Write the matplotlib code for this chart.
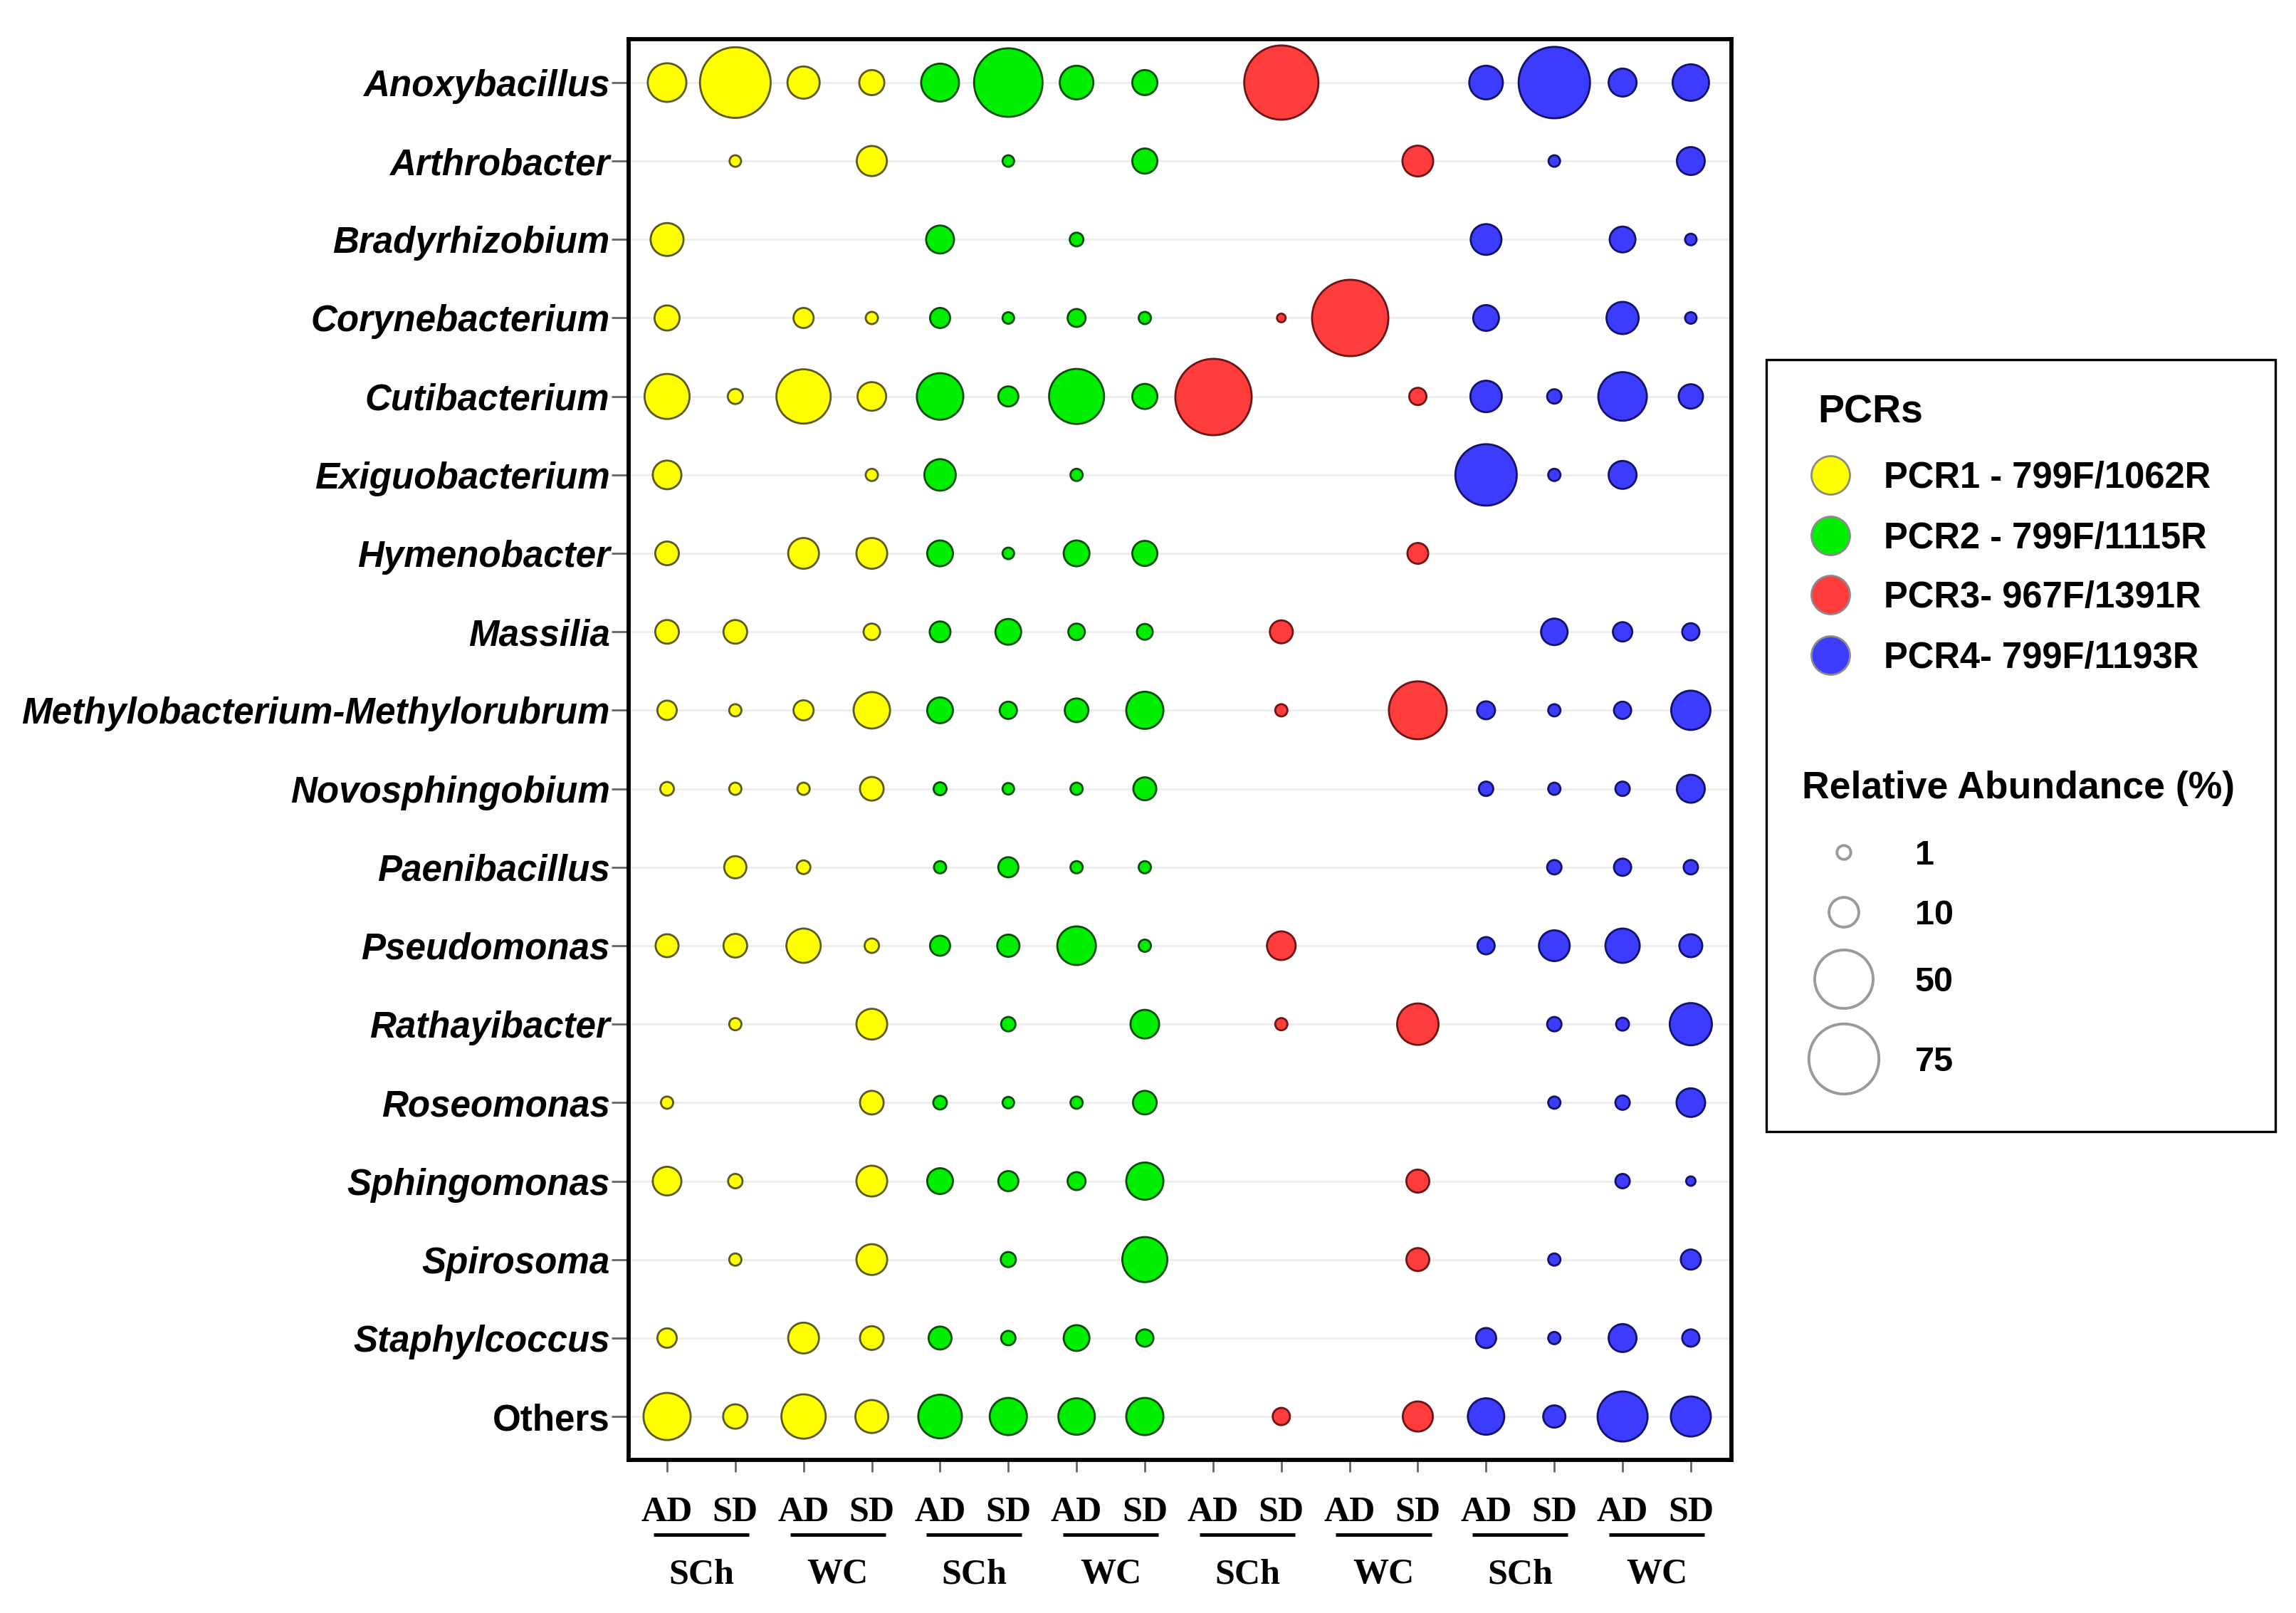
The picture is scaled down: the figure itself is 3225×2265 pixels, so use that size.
import matplotlib
matplotlib.use('Agg')
import matplotlib.pyplot as plt
import numpy as np
from matplotlib.transforms import blended_transform_factory
from matplotlib.patches import Rectangle

# ---------------- data ----------------
genera = ["Anoxybacillus", "Arthrobacter", "Bradyrhizobium", "Corynebacterium",
          "Cutibacterium", "Exiguobacterium", "Hymenobacter", "Massilia",
          "Methylobacterium-Methylorubrum", "Novosphingobium", "Paenibacillus",
          "Pseudomonas", "Rathayibacter", "Roseomonas", "Sphingomonas",
          "Spirosoma", "Staphylcoccus", "Others"]
conditions = ["AD", "SD"]
sites = ["SCh", "WC"]
pcr_labels = ["PCR1 - 799F/1062R", "PCR2 - 799F/1115R",
              "PCR3- 967F/1391R", "PCR4- 799F/1193R"]
size_legend_values = [1, 10, 50, 75]

# relative abundance (%), columns: SCh-AD, SCh-SD, WC-AD, WC-SD
pcr1 = [[19.1, 76.4, 12.2, 6.37],
        [0, 0.46, 0, 10.3],
        [12.9, 0, 0, 0],
        [6.37, 0, 3.40, 0.60],
        [27.5, 1.36, 42.3, 9.06],
        [9.06, 0, 0, 0.60],
        [5.43, 0, 10.9, 10.9],
        [5.43, 5.43, 0, 1.85],
        [3.05, 0.60, 3.40, 16.6],
        [0.94, 0.60, 0.60, 5.43],
        [0, 4.56, 0.94, 0],
        [4.99, 5.43, 14.3, 1.14],
        [0, 0.60, 0, 10.9],
        [0.60, 0, 0, 5.43],
        [9.06, 1.14, 0, 10.9],
        [0, 0.60, 0, 10.9],
        [3.05, 0, 10.9, 5.43],
        [30.6, 5.89, 26.5, 12.9]]
pcr2 = [[18.2, 71.3, 13.6, 6.37],
        [0, 0.46, 0, 6.37],
        [8.48, 0, 0.94, 0],
        [3.40, 0.46, 2.41, 0.60],
        [29.6, 3.40, 43.6, 6.37],
        [11.5, 0, 0.60, 0],
        [6.87, 0.46, 6.87, 6.37],
        [3.77, 6.87, 1.85, 1.59],
        [6.87, 2.12, 5.43, 17.4],
        [0.76, 0.46, 0.60, 4.99],
        [0.60, 3.40, 0.60, 0.60],
        [3.40, 4.56, 19.1, 0.60],
        [0, 1.14, 0, 9.06],
        [0.94, 0.46, 0.60, 5.43],
        [6.87, 3.40, 2.41, 17.4],
        [0, 1.36, 0, 27.5],
        [4.99, 1.14, 6.87, 2.12],
        [25.5, 17.4, 16.6, 17.4]]
pcr3 = [[0, 85.1, 0, 0],
        [0, 0, 0, 10.9],
        [0, 0, 0, 0],
        [0, 0.08, 90.5, 0],
        [90.5, 0, 0, 2.12],
        [0, 0, 0, 0],
        [0, 0, 0, 3.77],
        [0, 4.99, 0, 0],
        [0, 0.60, 0, 48.9],
        [0, 0, 0, 0],
        [0, 0, 0, 0],
        [0, 9.06, 0, 0],
        [0, 0.60, 0, 22.6],
        [0, 0, 0, 0],
        [0, 0, 0, 4.99],
        [0, 0, 0, 4.99],
        [0, 0, 0, 0],
        [0, 2.12, 0, 10.3]]
pcr4 = [[13.6, 78.1, 8.48, 16.6],
        [0, 0.46, 0, 8.48],
        [10.9, 0, 6.87, 0.46],
        [6.87, 0, 12.2, 0.46],
        [11.5, 1.14, 32.8, 5.89],
        [55.9, 0.60, 8.48, 0],
        [0, 0, 0, 0],
        [0, 7.39, 3.05, 2.12],
        [2.41, 0.60, 2.12, 19.9],
        [1.14, 0.60, 1.14, 8.48],
        [0, 1.14, 2.12, 1.14],
        [2.12, 10.9, 14.3, 4.99],
        [0, 1.14, 0.76, 23.6],
        [0, 0.60, 1.14, 9.06],
        [0, 0, 1.14, 0.15],
        [0, 0.60, 0, 3.40],
        [3.40, 0.60, 8.48, 2.12],
        [16.6, 4.56, 35.1, 20.8]]

# ---------------- style ----------------
face_colors = ["#FFFF00", "#00EE00", "#FF3C3C", "#3C3CFF"]
edge_colors = ["#5c5a1e", "#0b4d0b", "#6e1616", "#13136b"]
DPI = 100
EDGE_PX = 2.8


def size_pt2(v):
    d_px = 12 + 10.3 * np.sqrt(np.asarray(v, dtype=float)) - EDGE_PX
    return (d_px * 72.0 / DPI) ** 2


fig = plt.figure(figsize=(32.25, 22.65), dpi=DPI)
ax = fig.add_axes([883 / 3225, 1 - 2050 / 2265, (2432 - 883) / 3225, 1995 / 2265])

rows = np.arange(len(genera))
for p, vals in enumerate([pcr1, pcr2, pcr3, pcr4]):
    arr = np.array(vals, dtype=float)
    for j in range(4):
        col = arr[:, j]
        m = col > 0
        ax.scatter(np.full(m.sum(), 4 * p + j), rows[m], s=size_pt2(col[m]),
                   c=face_colors[p], edgecolors=edge_colors[p],
                   linewidths=EDGE_PX * 72 / DPI, zorder=3)

ax.set_xlim(-0.563, 15.595)
ax.set_ylim(17.553, -0.553)
ax.set_axisbelow(True)
ax.yaxis.grid(True, color="#ebebeb", lw=1.8)
ax.xaxis.grid(False)
for s in ax.spines.values():
    s.set_linewidth(4.2)
    s.set_color("black")

ax.set_yticks(rows)
ax.set_yticklabels(genera, fontsize=36.8, fontweight="bold", fontstyle="italic",
                   family="Liberation Sans")
ax.get_yticklabels()[-1].set_fontstyle("normal")
ax.tick_params(axis="y", length=17, width=2, color="#666666", pad=2, direction="out")
ax.set_xticks(range(16))
ax.set_xticklabels([""] * 16)
ax.tick_params(axis="x", length=12, width=2, color="#666666", direction="out")

blend = blended_transform_factory(ax.transData, fig.transFigure)
for x in range(16):
    ax.text(x, 1 - 2136 / 2265, conditions[x % 2], transform=blend, ha="center",
            va="baseline", family="Liberation Serif", fontweight="bold", fontsize=36)
for g in range(8):
    c = 2 * g + 0.5
    ax.plot([c - 0.7, c + 0.7], [1 - 2155 / 2265] * 2, transform=blend,
            color="black", lw=3.5, clip_on=False, solid_capstyle="butt")
    ax.text(c, 1 - 2223 / 2265, sites[g % 2], transform=blend, ha="center",
            va="baseline", family="Liberation Serif", fontweight="bold", fontsize=36)

# ---------------- legend (pixel-coordinate overlay) ----------------
lax = fig.add_axes([0, 0, 1, 1], facecolor="none")
lax.set_xlim(0, 3225)
lax.set_ylim(2265, 0)
lax.axis("off")
lax.add_patch(Rectangle((2481, 505), 715, 1084, fill=False, lw=2.4, ec="black"))
lax.text(2553, 594, "PCRs", family="Liberation Sans", fontweight="bold",
         fontsize=40, va="baseline", ha="left")
for i, (lab, fc) in enumerate(zip(pcr_labels, face_colors)):
    y = [667, 752, 835, 920][i]
    lax.scatter([2571], [y], s=(54 * 0.72) ** 2, c=fc, edgecolors="#8a8a8a",
                linewidths=2)
    lax.text(2646, y + 18, lab, family="Liberation Sans", fontweight="bold",
             fontsize=36.5, va="baseline", ha="left")
lax.text(2531, 1121, "Relative Abundance (%)", family="Liberation Sans",
         fontweight="bold", fontsize=38.5, va="baseline", ha="left")
for v, y in zip(size_legend_values, [1197, 1281, 1375, 1487]):
    lax.scatter([2590], [y], s=size_pt2(v), facecolors="none",
                edgecolors="#9a9a9a", linewidths=2.8)
    lax.text(2690, y + 17, str(v), family="Liberation Sans", fontweight="bold",
             fontsize=35, va="baseline", ha="left")

fig.savefig("out.png", dpi=DPI)
